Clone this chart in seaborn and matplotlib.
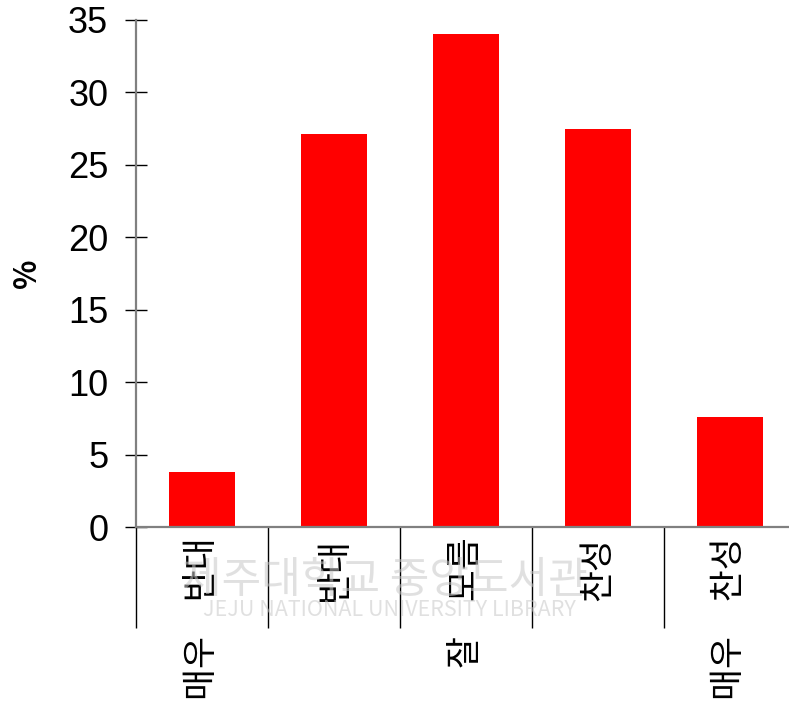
import matplotlib
matplotlib.use("Agg")
import matplotlib.pyplot as plt
import pandas as pd
import seaborn as sns
from matplotlib.ticker import FixedLocator

categories = ["매우 반대", "반대", "잘 모름", "찬성", "매우 찬성"]
percent = [3.8, 27.1, 34.0, 27.5, 7.6]
y_ticks = [0, 5, 10, 15, 20, 25, 30, 35]
separators = [-0.5, 0.5, 1.5, 2.5, 3.5]

sns.set_theme(style="white")
plt.rcParams["font.family"] = ["Noto Sans CJK KR", "DejaVu Sans"]

df = pd.DataFrame({"category": categories, "percent": percent})

fig = plt.figure(figsize=(7.89, 7.08), dpi=100)
ax = fig.add_axes([0.1724, 0.2556, 0.8276, 0.7162])

# faint library watermark seen in the scan
fig.text(0.488, 0.180, "제주대학교 중앙도서관", fontsize=31, color="#c8c8c8",
         alpha=0.55, ha="center", va="center", zorder=0)
fig.text(0.494, 0.138, "JEJU NATIONAL UNIVERSITY LIBRARY", fontsize=15.5, color="#c8c8c8",
         alpha=0.55, ha="center", va="center", zorder=0)

sns.barplot(data=df, x="category", y="percent", color="#ff0000", width=0.5,
            saturation=1, linewidth=0, ax=ax)

ax.set_xlim(-0.5, 4.447)
ax.set_ylim(0, 35)
ax.set_yticks(y_ticks)
ax.set_yticklabels([str(t) for t in y_ticks], fontfamily="Liberation Sans", fontsize=26)

ax.set_xticks(range(len(categories)))
ax.set_xticklabels([c.replace(" ", "\u3000") for c in categories], rotation=90, fontsize=25)
ax.xaxis.set_minor_locator(FixedLocator(separators))

ax.tick_params(axis="x", which="major", length=0, pad=7, labelcolor="black")
ax.tick_params(axis="x", which="minor", bottom=True, length=73, width=1,
               color="black", direction="out")
ax.tick_params(axis="y", which="major", direction="inout", length=16, width=1,
               color="black", labelcolor="black", pad=12, left=True)

for side in ["top", "right"]:
    ax.spines[side].set_visible(False)
for side in ["left", "bottom"]:
    ax.spines[side].set_color("#808080")
    ax.spines[side].set_linewidth(1.6)

ax.set_xlabel("")
ax.set_ylabel("%", fontsize=22, fontweight="bold", color="black")
ax.yaxis.set_label_coords(-0.142, 0.5)

fig.savefig("out.png", dpi=100, facecolor="white")
